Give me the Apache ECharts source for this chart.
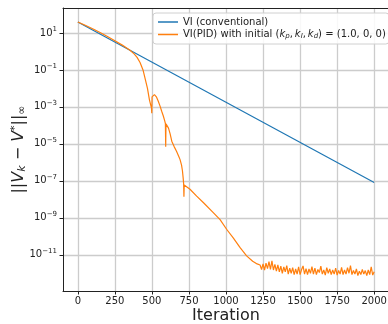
<!DOCTYPE html>
<html>
<head>
<meta charset="utf-8">
<script src="https://cdn.jsdelivr.net/npm/echarts@6/dist/echarts.min.js"></script>
<style>html,body{margin:0;padding:0;background:#fff;}#c{width:388px;height:324px;}</style>
</head>
<body>
<div id="c"></div>
<script>
// ---- data ----
var xTicks = [0, 250, 500, 750, 1000, 1250, 1500, 1750, 2000];
var yTickExponents = [-11, -9, -7, -5, -3, -1, 1];

var viIter = [0, 1000, 2000];
var viVal  = [39, 1.8e-3, 8.1e-8];

var pidIter = [0, 50, 100, 150, 200, 250, 300, 352, 380, 400, 420, 440, 455, 470, 483, 492, 497, 499, 501, 507, 517, 530, 543, 555, 566, 577, 586, 591, 593, 595, 602, 612, 623, 634, 650, 666, 680, 690, 700, 706, 711, 714, 716, 718, 724, 757, 802, 850, 914, 960, 1004, 1050, 1094, 1139, 1180, 1210,
  1230, 1240, 1250, 1260, 1270, 1280, 1290, 1300, 1310, 1320, 1330, 1340, 1350, 1360, 1370, 1380, 1390, 1400, 1410, 1420, 1430, 1440, 1450, 1460, 1470, 1480, 1490, 1500, 1510, 1520, 1530, 1540, 1550, 1560, 1570, 1580, 1590, 1600, 1610, 1620, 1630, 1640, 1650, 1660, 1670, 1680, 1690, 1700, 1710, 1720, 1730, 1740, 1750, 1760, 1770, 1780, 1790, 1800, 1810, 1820, 1830, 1840, 1850, 1860, 1870, 1880, 1890, 1900, 1910, 1920, 1930, 1940, 1950, 1960, 1970, 1980, 1990, 2000];
var pidVal = [39, 26, 17, 10.5, 6.4, 3.8, 2.2, 1.17, 0.74, 0.48, 0.25, 0.10, 0.032, 0.010, 2.5e-3, 1.26e-3, 8.9e-4, 4.5e-4, 3.5e-3, 4.3e-3, 4.6e-3, 3.5e-3, 2.0e-3, 1.1e-3, 5.8e-4, 3.2e-4, 1.8e-4, 1.26e-4, 6.9e-6, 1.2e-4, 1.05e-4, 7.1e-5, 3.5e-5, 1.4e-5, 7.1e-6, 4.0e-6, 2.2e-6, 1.4e-6, 7.1e-7, 3.5e-7, 1.4e-7, 7.1e-8, 1.4e-8, 6.0e-8, 5.6e-8, 3.5e-8, 1.5e-8, 6.3e-9, 1.9e-9, 7.9e-10, 2.4e-10, 7.9e-11, 2.5e-11, 8.7e-12, 4.5e-12, 3.2e-12,
  2.8e-12, 1.6e-12, 3.2e-12, 1.5e-12, 3.5e-12, 1.8e-12, 4.2e-12, 1.6e-12, 4.7e-12, 1.5e-12, 3.0e-12, 1.3e-12, 2.8e-12, 1.2e-12, 2.4e-12, 1.0e-12, 2.2e-12, 1.2e-12, 2.6e-12, 9.0e-13, 1.9e-12, 1.0e-12, 2.0e-12, 8.5e-13, 1.7e-12, 9.0e-13, 2.2e-12, 8.5e-13, 1.6e-12, 2.5e-12, 9.0e-13, 1.8e-12, 8.5e-13, 1.7e-12, 1.0e-12, 2.3e-12, 9.0e-13, 1.9e-12, 8.5e-13, 1.6e-12, 1.1e-12, 2.4e-12, 9.0e-13, 1.5e-12, 8.0e-13, 2.0e-12, 1.0e-12, 1.7e-12, 8.5e-13, 1.5e-12, 9.0e-13, 1.9e-12, 8.0e-13, 1.4e-12, 9.0e-13, 2.1e-12, 8.5e-13, 1.5e-12, 9.0e-13, 2.0e-12, 1.0e-12, 2.6e-12, 8.5e-13, 1.4e-12, 9.0e-13, 1.7e-12, 7.5e-13, 1.3e-12, 8.5e-13, 1.6e-12, 9.0e-13, 1.4e-12, 7.5e-13, 1.5e-12, 8.5e-13, 2.2e-12, 8.0e-13, 1.2e-12];

var seriesNames = ['VI (conventional)', 'VI(PID) with initial (k_p, k_I, k_d) = (1.0, 0, 0)'];

// ---- build ----
function pairs(xs, vs) {
  return xs.map(function (x, i) { return [x, Math.log10(vs[i])]; });
}
var FONT = 'DejaVu Sans';
var chart = echarts.init(document.getElementById('c'), null, {renderer: 'canvas'});
chart.setOption({
  animation: false,
  backgroundColor: '#fff',
  textStyle: {fontFamily: FONT},
  grid: {left: 63, top: 8, right: -1, bottom: 33, containLabel: false, outerBoundsMode: 'none', show: false},
  legend: {
    left: 153, top: 13, orient: 'vertical', itemGap: 2,
    padding: [4, 3, 4, 5],
    icon: 'rect', itemWidth: 20, itemHeight: 1.5,
    backgroundColor: 'rgba(255,255,255,0.85)', borderColor: '#d0d0d0', borderWidth: 1, borderRadius: 3,
    textStyle: {fontFamily: FONT, fontSize: 10, color: '#222',
      rich: {
        a: {fontFamily: FONT, fontSize: 10, color: '#222', lineHeight: 14},
        i: {fontFamily: FONT, fontSize: 10, color: '#222', fontStyle: 'italic', lineHeight: 14},
        s: {fontFamily: FONT, fontSize: 7, color: '#222', fontStyle: 'italic', padding: [4, 0, 0, 0], lineHeight: 14}
      }
    },
    formatter: function (name) {
      if (name === seriesNames[0]) return '{a|' + name + '}';
      return '{a|VI(PID) with initial (}{i|k}{s|p}{a|,\u2009}{i|k}{s|I}{a|,\u2009}{i|k}{s|d}{a|) = (1.0, 0, 0)}';
    },
    data: seriesNames
  },
  xAxis: [{
    type: 'value', min: -100, max: 2100,
    name: 'Iteration', nameLocation: 'middle', nameGap: 17, nameMoveOverlap: false,
    nameTextStyle: {fontFamily: FONT, fontSize: 16, color: '#222'},
    axisLine: {show: true, onZero: false, lineStyle: {color: '#222', width: 1}},
    axisTick: {show: true, length: 3.5, lineStyle: {color: '#222'}, customValues: xTicks},
    axisLabel: {customValues: xTicks, fontFamily: FONT, fontSize: 10, color: '#222', margin: 5,
      formatter: function (v) { return String(v); }},
    splitLine: {show: true, lineStyle: {color: '#cccccc', width: 1.3}}
  }, {
    type: 'value', min: -100, max: 2100, position: 'top',
    axisLine: {show: true, onZero: false, lineStyle: {color: '#222', width: 1}},
    axisTick: {show: false}, axisLabel: {show: false}, splitLine: {show: false}
  }],
  yAxis: {
    type: 'value', min: -12.96, max: 2.35,
    name: '{a|||}{v|V}{s|k}{a| − }{v|V}{p|*}{a|||}{s|∞}', nameLocation: 'middle', nameRotate: 90, nameGap: 33, nameMoveOverlap: false,
    nameTextStyle: {fontFamily: FONT, fontSize: 16, color: '#222',
      rich: {
        a: {fontFamily: FONT, fontSize: 16, color: '#222', lineHeight: 22},
        v: {fontFamily: FONT, fontSize: 16, color: '#222', fontStyle: 'italic', lineHeight: 22},
        s: {fontFamily: FONT, fontSize: 11, color: '#222', fontStyle: 'italic', padding: [7, 0, 0, 0], lineHeight: 22},
        p: {fontFamily: FONT, fontSize: 11, color: '#222', padding: [0, 0, 8, 0], lineHeight: 22}
      }
    },
    axisLine: {show: true, onZero: false, lineStyle: {color: '#222', width: 1}},
    axisTick: {show: true, length: 3.5, lineStyle: {color: '#222'}, customValues: yTickExponents},
    axisLabel: {
      customValues: yTickExponents, margin: 6, fontFamily: FONT, fontSize: 10, color: '#222',
      formatter: function (v) {
        var e = Math.round(v);
        return '{b|10}{e|' + (e < 0 ? '\u2212' + (-e) : e) + '}';
      },
      rich: {
        b: {fontFamily: FONT, fontSize: 10, color: '#222'},
        e: {fontFamily: FONT, fontSize: 7, color: '#222', padding: [0, 0, 7, 0]}
      }
    },
    splitLine: {show: true, lineStyle: {color: '#cccccc', width: 1.3}}
  },
  series: [
    {name: seriesNames[0], type: 'line', data: pairs(viIter, viVal), showSymbol: false, symbol: 'none',
     lineStyle: {color: '#1f77b4', width: 1.2}, itemStyle: {color: '#1f77b4'}, z: 3},
    {name: seriesNames[1], type: 'line', data: pairs(pidIter, pidVal), showSymbol: false, symbol: 'none',
     lineStyle: {color: '#ff7f0e', width: 1.2}, itemStyle: {color: '#ff7f0e'}, z: 4}
  ]
});
</script>
</body>
</html>
